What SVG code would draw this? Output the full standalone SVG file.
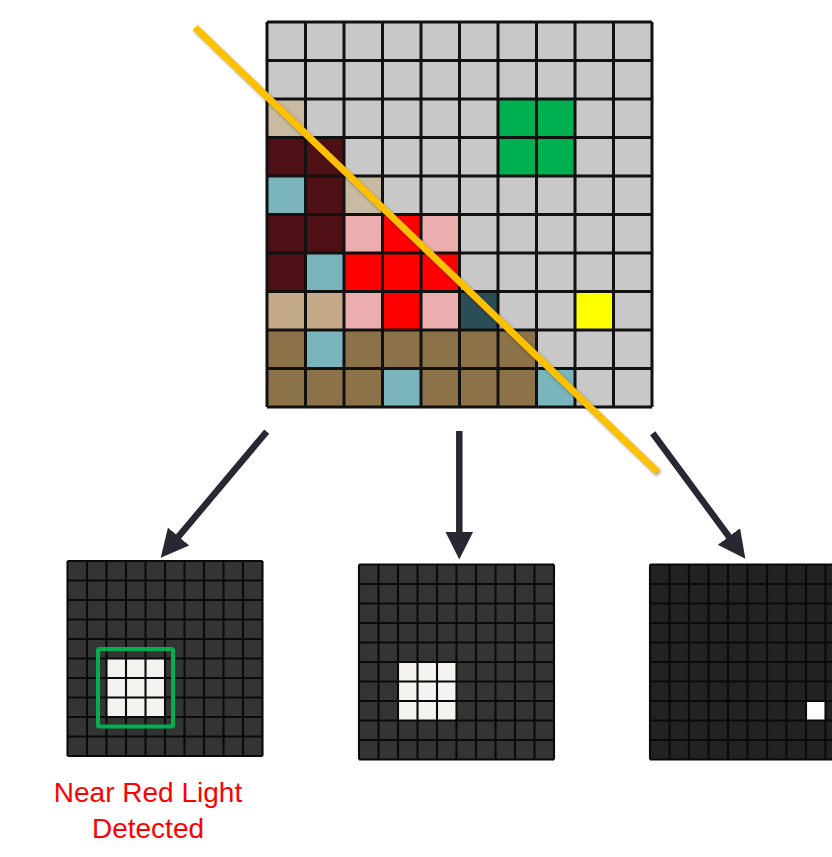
<svg xmlns="http://www.w3.org/2000/svg" width="832" height="857" viewBox="0 0 832 857">
  <style>
    .grid { fill: none; stroke: #111111; stroke-width: 3; }
    .sgrid { fill: none; stroke: #0a0a0a; stroke-width: 2.1; }
    .arrow { fill: none; stroke: #282833; stroke-width: 6.5; marker-end: url(#head); }
    .lbl { font-family: "Liberation Sans", Arial, sans-serif; font-size: 28px; fill: #FF0000; text-anchor: middle; }
    .gr { fill: #C8C8C8; }
    .bg1 { fill: #C9BBA2; }
    .mr { fill: #4F1015; }
    .tl { fill: #7AB4BC; }
    .gn { fill: #00B050; }
    .pk { fill: #EBADAD; }
    .rd { fill: #FF0000; }
    .tn { fill: #C4AA88; }
    .sl { fill: #2B4D56; }
    .yl { fill: #FFFF00; }
    .br { fill: #8B7249; }
    .wh { fill: #F4F3EF; }
  </style>
  <defs>
    <marker id="head" markerUnits="userSpaceOnUse" markerWidth="30" markerHeight="30" viewBox="0 -13 26 26" refX="1" refY="0" orient="auto">
      <path d="M0,-12 L24,0 L0,12 Z" fill="#282833"/>
    </marker>
    <filter id="shadow" x="-10%" y="-10%" width="120%" height="120%">
      <feGaussianBlur stdDeviation="1.5"/>
    </filter>
  </defs>

  <g id="main-grid">
    <rect class="gr" x="267" y="22" width="385" height="385"/>
    <rect class="bg1" x="267" y="99" width="38.5" height="38.5"/>
    <rect class="bg1" x="344" y="176" width="38.5" height="38.5"/>
    <rect class="mr" x="267" y="137.5" width="38.5" height="38.5"/>
    <rect class="mr" x="305.5" y="137.5" width="38.5" height="38.5"/>
    <rect class="mr" x="305.5" y="176" width="38.5" height="38.5"/>
    <rect class="mr" x="267" y="214.5" width="38.5" height="38.5"/>
    <rect class="mr" x="305.5" y="214.5" width="38.5" height="38.5"/>
    <rect class="mr" x="267" y="253" width="38.5" height="38.5"/>
    <rect class="tl" x="267" y="176" width="38.5" height="38.5"/>
    <rect class="tl" x="305.5" y="253" width="38.5" height="38.5"/>
    <rect class="tl" x="305.5" y="330" width="38.5" height="38.5"/>
    <rect class="tl" x="382.5" y="368.5" width="38.5" height="38.5"/>
    <rect class="tl" x="536.5" y="368.5" width="38.5" height="38.5"/>
    <rect class="gn" x="498" y="99" width="77" height="77"/>
    <rect class="pk" x="344" y="214.5" width="38.5" height="38.5"/>
    <rect class="pk" x="421" y="214.5" width="38.5" height="38.5"/>
    <rect class="pk" x="344" y="291.5" width="38.5" height="38.5"/>
    <rect class="pk" x="421" y="291.5" width="38.5" height="38.5"/>
    <rect class="rd" x="382.5" y="214.5" width="38.5" height="38.5"/>
    <rect class="rd" x="344" y="253" width="115.5" height="38.5"/>
    <rect class="rd" x="382.5" y="291.5" width="38.5" height="38.5"/>
    <rect class="tn" x="267" y="291.5" width="77" height="38.5"/>
    <rect class="sl" x="459.5" y="291.5" width="38.5" height="38.5"/>
    <rect class="yl" x="575" y="291.5" width="38.5" height="38.5"/>
    <rect class="br" x="267" y="330" width="38.5" height="38.5"/>
    <rect class="br" x="344" y="330" width="192.5" height="38.5"/>
    <rect class="br" x="267" y="368.5" width="115.5" height="38.5"/>
    <rect class="br" x="421" y="368.5" width="115.5" height="38.5"/>
    <path class="grid" d="M267,22V407M305.5,22V407M344,22V407M382.5,22V407M421,22V407M459.5,22V407M498,22V407M536.5,22V407M575,22V407M613.5,22V407M652,22V407M267,22H652M267,60.5H652M267,99H652M267,137.5H652M267,176H652M267,214.5H652M267,253H652M267,291.5H652M267,330H652M267,368.5H652M267,407H652"/>
  </g>

  <g id="diagonal">
    <line x1="196.5" y1="29.5" x2="659" y2="474" stroke="#000000" stroke-opacity="0.35" stroke-width="7" filter="url(#shadow)"/>
    <line x1="195" y1="27.5" x2="657.5" y2="472" stroke="#FFC000" stroke-width="7"/>
  </g>

  <g id="output-1">
    <rect x="67.5" y="561" width="195" height="195" fill="#343434"/>
    <rect class="wh" x="106.5" y="658.5" width="58.5" height="58.5"/>
    <path class="sgrid" d="M67.5,561v195M87,561v195M106.5,561v195M126,561v195M145.5,561v195M165,561v195M184.5,561v195M204,561v195M223.5,561v195M243,561v195M262.5,561v195M67.5,561h195M67.5,580.5h195M67.5,600h195M67.5,619.5h195M67.5,639h195M67.5,658.5h195M67.5,678h195M67.5,697.5h195M67.5,717h195M67.5,736.5h195M67.5,756h195"/>
    <rect x="98" y="649" width="75" height="77.5" rx="1.5" fill="none" stroke="#00B050" stroke-width="4"/>
  </g>

  <g id="output-2">
    <rect x="359" y="564.5" width="195" height="195" fill="#343434"/>
    <rect class="wh" x="398" y="662" width="58.5" height="58.5"/>
    <path class="sgrid" d="M359,564.5v195M378.5,564.5v195M398,564.5v195M417.5,564.5v195M437,564.5v195M456.5,564.5v195M476,564.5v195M495.5,564.5v195M515,564.5v195M534.5,564.5v195M554,564.5v195M359,564.5h195M359,584h195M359,603.5h195M359,623h195M359,642.5h195M359,662h195M359,681.5h195M359,701h195M359,720.5h195M359,740h195M359,759.5h195"/>
  </g>

  <g id="output-3">
    <rect x="650" y="564.5" width="195" height="195" fill="#222222"/>
    <rect x="806" y="701" width="19.5" height="19.5" fill="#FFFFFF"/>
    <path class="sgrid" d="M650,564.5v195M669.5,564.5v195M689,564.5v195M708.5,564.5v195M728,564.5v195M747.5,564.5v195M767,564.5v195M786.5,564.5v195M806,564.5v195M825.5,564.5v195M650,564.5h195M650,584h195M650,603.5h195M650,623h195M650,642.5h195M650,662h195M650,681.5h195M650,701h195M650,720.5h195M650,740h195M650,759.5h195"/>
  </g>

  <g id="connectors">
    <line class="arrow" x1="266.7" y1="431.7" x2="177.8" y2="537.4"/>
    <line class="arrow" x1="459.3" y1="431" x2="459.3" y2="533"/>
    <line class="arrow" x1="652.7" y1="433.3" x2="729.6" y2="537.5"/>
  </g>

  <g id="label">
    <text class="lbl" x="148" y="801.5">Near Red Light</text>
    <text class="lbl" x="148" y="838">Detected</text>
  </g>
</svg>
